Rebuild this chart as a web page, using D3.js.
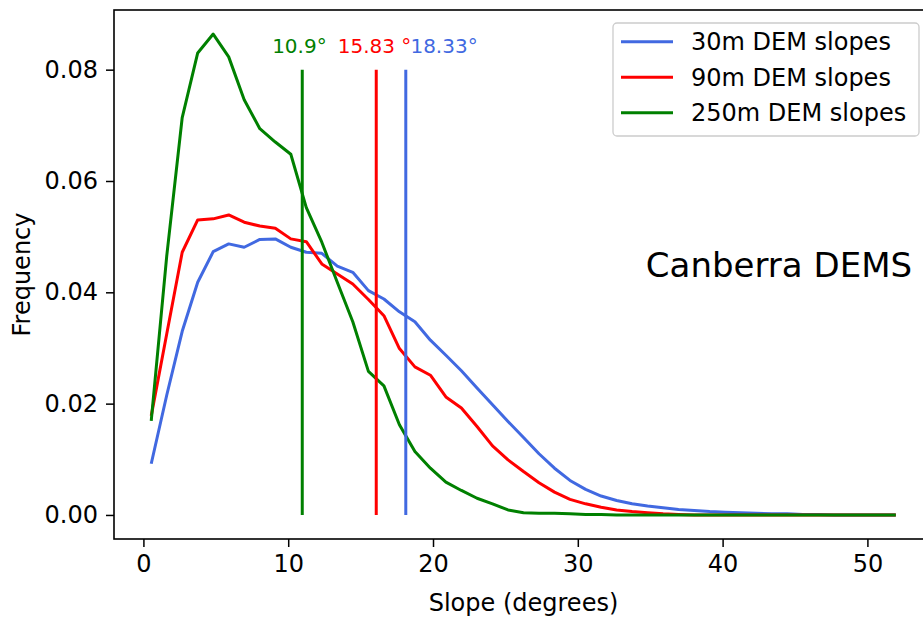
<!DOCTYPE html>
<html>
<head>
<meta charset="utf-8">
<script src="https://cdn.jsdelivr.net/npm/d3@7"></script>
<style>
  body { margin: 0; background: #fff; }
  svg text { font-family: "DejaVu Sans", sans-serif; fill: #000; }
</style>
</head>
<body>
<svg id="chart"></svg>
<script>
// bin centres (degrees)
var slopeBins = [0.54, 1.61, 2.68, 3.75, 4.82, 5.89, 6.96, 8.04, 9.11, 10.18,
  11.25, 12.32, 13.39, 14.46, 15.54, 16.61, 17.68, 18.75, 19.82, 20.89,
  21.96, 23.04, 24.11, 25.18, 26.25, 27.32, 28.39, 29.46, 30.54, 31.61,
  32.68, 33.75, 34.82, 35.89, 36.96, 38.04, 39.11, 40.18, 41.25, 42.32,
  43.39, 44.46, 45.54, 46.61, 47.68, 48.75, 49.82, 50.89, 51.96];

var dem30 = [0.0092, 0.0215, 0.0330, 0.0418, 0.0473, 0.0487, 0.0481, 0.0495, 0.0496, 0.0481,
  0.0472, 0.0470, 0.0447, 0.0436, 0.0403, 0.0388, 0.0365, 0.0347, 0.0314, 0.0287,
  0.0259, 0.0228, 0.0198, 0.0168, 0.0139, 0.0110, 0.0084, 0.0062, 0.0046, 0.0034,
  0.0026, 0.0020, 0.0016, 0.0013, 0.0010, 0.0008, 0.0006, 0.0005, 0.0004, 0.0003,
  0.0002, 0.0002, 0.0001, 0.0001, 0, 0, 0, 0, 0];

var dem90 = [0.0178, 0.0325, 0.0472, 0.0530, 0.0532, 0.0539, 0.0526, 0.0519, 0.0515, 0.0496,
  0.0491, 0.0451, 0.0433, 0.0415, 0.0387, 0.0358, 0.0299, 0.0266, 0.0251, 0.0212,
  0.0192, 0.0159, 0.0124, 0.0099, 0.0078, 0.0058, 0.0041, 0.0028, 0.0020, 0.0014,
  0.0009, 0.0006, 0.0004, 0.0002, 0.0001, 0, 0, 0, 0, 0,
  0, 0, 0, 0, 0, 0, 0, 0, 0];

var dem250 = [0.0169, 0.0465, 0.0714, 0.0830, 0.0864, 0.0823, 0.0746, 0.0694, 0.0670, 0.0648,
  0.0552, 0.0490, 0.0418, 0.0347, 0.0258, 0.0232, 0.0162, 0.0114, 0.0084, 0.0059,
  0.0044, 0.0030, 0.0020, 0.0009, 0.0004, 0.0003, 0.0003, 0.0002, 0.0001, 0.0001,
  0, 0, 0, 0, 0, 0, 0, 0, 0, 0,
  0, 0, 0, 0, 0, 0, 0, 0, 0];

var seriesNames = ["30m DEM slopes", "90m DEM slopes", "250m DEM slopes"];
var seriesColors = ["#4169e1", "#ff0000", "#008000"];

// mean slope markers
var meanLines = [18.12, 16.08, 10.97];
var meanLabels = ["18.33°", "15.83 °", "10.9°"];
var meanLabelAt = [18.44, 13.42, 8.89];
var meanLineTop = 0.08, meanLabelY = 0.083;

var xTicks = [0, 10, 20, 30, 40, 50];
var yTicks = [0, 0.02, 0.04, 0.06, 0.08];

var width = 923, height = 617;
var plotLeft = 114, plotTop = 10, plotBottom = 539, pxPerDeg = 14.48;

var svg = d3.select("#chart").attr("width", width).attr("height", height);

var xMin = d3.min(slopeBins), xMax = d3.max(slopeBins), xPad = 0.05 * (xMax - xMin);
var x = d3.scaleLinear()
  .domain([xMin - xPad, xMax + xPad])
  .range([plotLeft, plotLeft + (xMax - xMin + 2 * xPad) * pxPerDeg]);

var yMax = d3.max(dem250), yPad = 0.05 * yMax;
var y = d3.scaleLinear().domain([-yPad, yMax + yPad]).range([plotBottom, plotTop]);

var allSeries = [dem30, dem90, dem250];

var line = d3.line()
  .x(function(d, i){ return x(slopeBins[i]); })
  .y(function(d){ return y(d); });

var plot = svg.append("g");

plot.selectAll("path.curve")
  .data(allSeries)
  .enter().append("path")
  .attr("class", "curve")
  .attr("d", line)
  .attr("fill", "none")
  .attr("stroke", function(d, i){ return seriesColors[i]; })
  .attr("stroke-width", 3)
  .attr("stroke-linejoin", "round");

plot.selectAll("line.mean")
  .data(meanLines)
  .enter().append("line")
  .attr("class", "mean")
  .attr("x1", function(d){ return x(d); })
  .attr("x2", function(d){ return x(d); })
  .attr("y1", y(0))
  .attr("y2", y(meanLineTop))
  .attr("stroke", function(d, i){ return seriesColors[i]; })
  .attr("stroke-width", 3);

plot.selectAll("text.mean")
  .data(meanLabels)
  .enter().append("text")
  .attr("class", "mean")
  .attr("x", function(d, i){ return x(meanLabelAt[i]); })
  .attr("y", y(meanLabelY))
  .style("font-size", "20px")
  .style("fill", function(d, i){ return seriesColors[i]; })
  .text(function(d){ return d; });

// axes
var xAxis = svg.append("g")
  .attr("transform", "translate(0," + plotBottom + ")")
  .call(d3.axisBottom(x).tickValues(xTicks).tickFormat(d3.format("d")).tickSize(8).tickPadding(8));

var yAxis = svg.append("g")
  .attr("transform", "translate(" + plotLeft + ",0)")
  .call(d3.axisLeft(y).tickValues(yTicks).tickFormat(d3.format(".2f")).tickSize(8).tickPadding(8));

[xAxis, yAxis].forEach(function(a){
  a.select(".domain").remove();
  a.selectAll(".tick line").attr("stroke", "#000").attr("stroke-width", 1.5);
  a.selectAll(".tick text").style("font-size", "24px").style("font-family", "DejaVu Sans");
});

// frame
svg.append("rect")
  .attr("x", plotLeft)
  .attr("y", plotTop)
  .attr("width", x.range()[1] - plotLeft)
  .attr("height", plotBottom - plotTop)
  .attr("fill", "none")
  .attr("stroke", "#000")
  .attr("stroke-width", 1.6);

svg.append("text")
  .attr("x", d3.mean(x.range()))
  .attr("y", 611)
  .attr("text-anchor", "middle")
  .style("font-size", "24px")
  .text("Slope (degrees)");

svg.append("text")
  .attr("transform", "translate(30," + d3.mean(y.range()) + ") rotate(-90)")
  .attr("text-anchor", "middle")
  .style("font-size", "24px")
  .text("Frequency");

svg.append("text")
  .attr("x", x(34.7))
  .attr("y", y(0.0428))
  .style("font-size", "34px")
  .text("Canberra DEMS");

// legend
var legend = svg.append("g").attr("transform", "translate(613,23)");
legend.append("rect")
  .attr("width", 306).attr("height", 113)
  .attr("rx", 4)
  .attr("fill", "#fff").attr("fill-opacity", 0.8)
  .attr("stroke", "#cccccc").attr("stroke-width", 1.3);

var item = legend.selectAll("g.item")
  .data(seriesNames)
  .enter().append("g")
  .attr("class", "item")
  .attr("transform", function(d, i){ return "translate(0," + (18.7 + i * 35.5) + ")"; });

item.append("line")
  .attr("x1", 8).attr("x2", 60)
  .attr("stroke", function(d, i){ return seriesColors[i]; })
  .attr("stroke-width", 3);

item.append("text")
  .attr("x", 78)
  .attr("dy", "0.36em")
  .style("font-size", "24px")
  .text(function(d){ return d; });
</script>
</body>
</html>
